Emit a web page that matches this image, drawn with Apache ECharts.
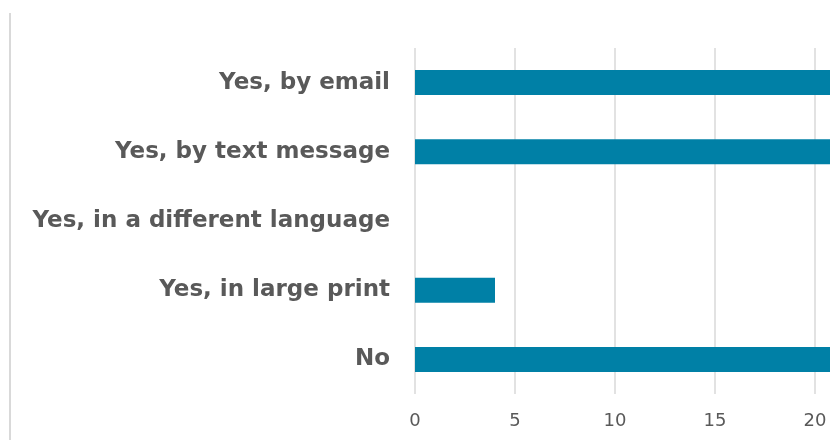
<!DOCTYPE html>
<html>
<head>
<meta charset="utf-8">
<script src="https://cdn.jsdelivr.net/npm/echarts@6/dist/echarts.min.js"></script>
<style>
  html, body { margin: 0; padding: 0; background: #fff; }
  #chart { width: 830px; height: 440px; }
</style>
</head>
<body>
<div id="chart"></div>
<script>
var categories = ['Yes, by email', 'Yes, by text message', 'Yes, in a different language', 'Yes, in large print', 'No'];
var values = [26, 24, 0, 4, 25];

(function() {
  var myChart = echarts.init(document.getElementById('chart'));

  var option = {
    animation: false,
    // the picture is cropped on the right, so the plot runs past the canvas
    grid: {
      left: 415,
      top: 48,
      width: 600,
      height: 346,
      outerBoundsMode: 'none',
      containLabel: false
    },
    graphic: [{
      type: 'line',
      shape: { x1: 10, y1: 13, x2: 10, y2: 440 },
      style: { stroke: '#d9d9d9', lineWidth: 2 }
    }],
    xAxis: {
      type: 'value',
      min: 0,
      max: 30,
      interval: 5,
      axisLine: { show: false },
      axisTick: { show: false },
      splitLine: {
        lineStyle: { color: '#d9d9d9', width: 1.5 }
      },
      axisLabel: {
        color: '#595959',
        fontSize: 18,
        fontFamily: 'DejaVu Sans',
        margin: 18
      }
    },
    yAxis: {
      type: 'category',
      data: categories,
      inverse: true,
      axisLine: { show: false },
      axisTick: { show: false },
      axisLabel: {
        color: '#595959',
        fontSize: 23,
        fontWeight: 'bold',
        fontFamily: 'DejaVu Sans',
        margin: 25,
        padding: [4, 0, 0, 0]
      }
    },
    series: [{
      type: 'bar',
      data: values,
      barWidth: 25,
      itemStyle: { color: '#0080a6' }
    }]
  };

  myChart.setOption(option);
})();
</script>
</body>
</html>
